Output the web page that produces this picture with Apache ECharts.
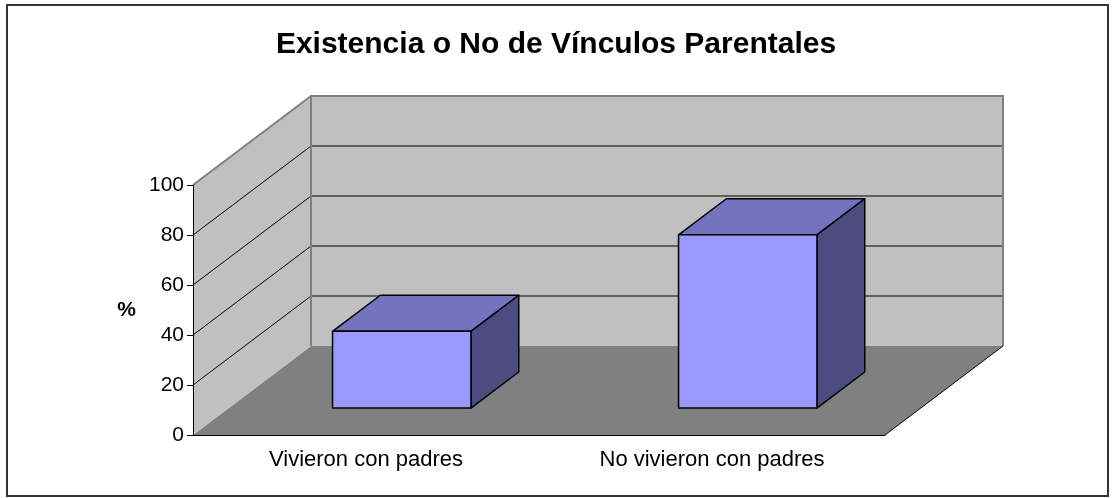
<!DOCTYPE html>
<html>
<head>
<meta charset="utf-8">
<script src="https://cdn.jsdelivr.net/npm/echarts@6/dist/echarts.min.js"></script>
<style>
  html, body { margin: 0; padding: 0; background: #fff; }
</style>
</head>
<body>
<div id="main" style="width: 1112px;height:498px;"></div>
<script>
const categories = ['Vivieron con padres', 'No vivieron con padres'];
const values = [30.7, 69.3];
const yTicks = [0, 20, 40, 60, 80, 100];

// fake 3d: depth vector of the box and where the bars sit inside it
const depth = [118, -89];
const barFront = 0.303;
const barBack = 0.708;
const barWidth = 0.4;

const font = 'Arial, "Liberation Sans", sans-serif';

function renderWalls(params, api) {
  const cs = params.coordSys;
  const x0 = cs.x, x1 = cs.x + cs.width;
  const yT = cs.y, yB = cs.y + cs.height;
  const dx = depth[0], dy = depth[1];
  const children = [
    {type: 'polygon', shape: {points: [[x0, yB], [x1, yB], [x1 + dx, yB + dy], [x0 + dx, yB + dy]]}, style: {fill: '#808080'}},
    {type: 'polygon', shape: {points: [[x0, yB], [x0, yT], [x0 + dx, yT + dy], [x0 + dx, yB + dy]]}, style: {fill: '#c0c0c0'}},
    {type: 'rect', shape: {x: x0 + dx, y: yT + dy, width: cs.width, height: cs.height}, style: {fill: '#c0c0c0'}}
  ];
  yTicks.forEach(function (v) {
    if (v === 0 || v === 100) return;
    const y = api.coord([0, v])[1];
    children.push({type: 'line', shape: {x1: x0, y1: y, x2: x0 + dx, y2: y + dy}, style: {stroke: '#000', lineWidth: 1}});
    children.push({type: 'line', shape: {x1: x0 + dx, y1: y + dy, x2: x1 + dx, y2: y + dy}, style: {stroke: '#000', lineWidth: 1}});
  });
  // grey edges of the walls
  children.push({type: 'line', shape: {x1: x0, y1: yT, x2: x0 + dx, y2: yT + dy}, style: {stroke: '#808080', lineWidth: 2}});
  children.push({type: 'polyline', shape: {points: [[x0 + dx, yB + dy], [x0 + dx, yT + dy], [x1 + dx, yT + dy], [x1 + dx, yB + dy]]}, style: {stroke: '#808080', lineWidth: 2, fill: null}});
  children.push({type: 'line', shape: {x1: x1, y1: yB, x2: x1 + dx, y2: yB + dy}, style: {stroke: '#000', lineWidth: 1}});
  return {type: 'group', children: children};
}

function renderBar(params, api) {
  const i = api.value(0), v = api.value(1);
  const top = api.coord([i, v]);
  const base = api.coord([i, 0]);
  const w = api.size([1, 0])[0] * barWidth;
  const dx = depth[0], dy = depth[1];
  const fl = top[0] - w / 2 + dx * barFront, fr = fl + w;
  const ft = top[1] + dy * barFront, fb = base[1] + dy * barFront;
  const bx = dx * (barBack - barFront), by = dy * (barBack - barFront);
  const line = {stroke: '#000', lineWidth: 1.5, lineJoin: 'round'};
  return {
    type: 'group',
    children: [
      {type: 'polygon', shape: {points: [[fl, ft], [fr, ft], [fr + bx, ft + by], [fl + bx, ft + by]]}, style: Object.assign({fill: '#7373bf'}, line)},
      {type: 'polygon', shape: {points: [[fr, ft], [fr + bx, ft + by], [fr + bx, fb + by], [fr, fb]]}, style: Object.assign({fill: '#4c4c80'}, line)},
      {type: 'polygon', shape: {points: [[fl, ft], [fr, ft], [fr, fb], [fl, fb]]}, style: Object.assign({fill: '#9999ff'}, line)}
    ]
  };
}

const myChart = echarts.init(document.getElementById('main'));
const option = {
  backgroundColor: '#fff',
  animation: false,
  title: {
    text: 'Existencia o No de Vínculos Parentales',
    left: 'center',
    top: 30,
    padding: 0,
    textStyle: {fontFamily: font, fontSize: 30, fontWeight: 'bold', color: '#000'}
  },
  graphic: [
    {type: 'rect', shape: {x: 7, y: 5, width: 1101, height: 491}, style: {fill: null, stroke: '#333', lineWidth: 2}, silent: true}
  ],
  grid: {left: 193, right: 227, top: 185, bottom: 63},
  xAxis: {
    type: 'category',
    data: categories,
    z: 5,
    axisLine: {lineStyle: {color: '#000', width: 1}},
    axisTick: {length: 6, lineStyle: {color: '#000'}},
    axisLabel: {fontFamily: font, fontSize: 22, color: '#000', margin: 14}
  },
  yAxis: {
    type: 'value',
    min: 0,
    max: 100,
    interval: 20,
    z: 5,
    name: '%',
    nameLocation: 'middle',
    nameRotate: 0,
    nameGap: 57,
    nameTextStyle: {fontFamily: font, fontSize: 21, fontWeight: 'bold', color: '#000'},
    axisLine: {show: true, lineStyle: {color: '#000', width: 1}},
    axisTick: {show: true, length: 6, lineStyle: {color: '#000'}},
    axisLabel: {fontFamily: font, fontSize: 21, color: '#000', margin: 9},
    splitLine: {show: false}
  },
  series: [
    {type: 'custom', z: 1, silent: true, renderItem: renderWalls, data: [[0, 0]]},
    {type: 'custom', z: 3, silent: true, renderItem: renderBar, data: values.map(function (v, i) { return [i, v]; })}
  ]
};
myChart.setOption(option);
</script>
</body>
</html>
